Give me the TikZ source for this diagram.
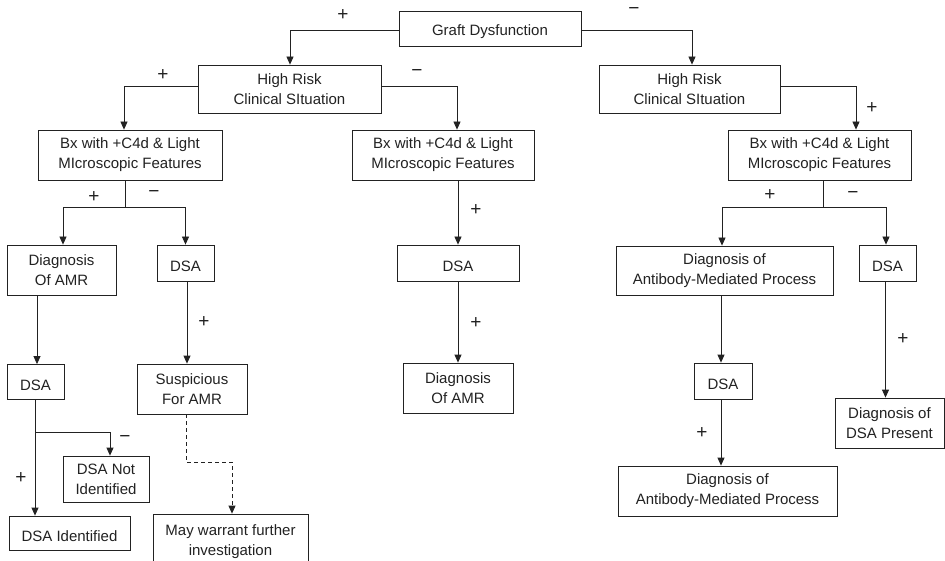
\documentclass[tikz,border=0pt]{standalone}
\usepackage{fontspec}
\setmainfont{Liberation Sans}
\usetikzlibrary{arrows.meta}
\definecolor{ink}{HTML}{222222}
\begin{document}
\begin{tikzpicture}[x=1pt,y=-1pt,
  box/.style={draw=ink,line width=0.8pt,inner sep=0pt,align=center,
    font=\fontsize{15}{20}\selectfont,text=ink,
    execute at begin node={\rule{0pt}{16.5pt}}},
  arr/.style={draw=ink,line width=0.8pt,-{Triangle[length=8pt,width=7pt]}},
  ln/.style={draw=ink,line width=0.8pt},
  sgn/.style={font=\fontsize{19}{19}\selectfont,text=ink,inner sep=0pt}]
\clip (0,0) rectangle (945,561);
\fill[white] (0,0) rectangle (945,561);
% boxes
\node[box,minimum width=182pt,minimum height=35pt] (gd) at (490,28.5) {Graft Dysfunction};
\node[box,minimum width=183pt,minimum height=48pt] (hrL) at (289.5,89) {High Risk\\Clinical SItuation};
\node[box,minimum width=181pt,minimum height=48pt] (hrR) at (689.5,89) {High Risk\\Clinical SItuation};
\node[box,minimum width=184pt,minimum height=50pt] (bxL) at (130,155) {Bx with +C4d \& Light\\MIcroscopic Features};
\node[box,minimum width=182pt,minimum height=50pt] (bxM) at (443,155) {Bx with +C4d \& Light\\MIcroscopic Features};
\node[box,minimum width=183pt,minimum height=50pt] (bxR) at (819.5,155) {Bx with +C4d \& Light\\MIcroscopic Features};
\node[box,minimum width=109pt,minimum height=50pt] (damrL) at (61.5,270) {Diagnosis\\Of AMR};
\node[box,minimum width=57pt,minimum height=36pt] (dsaL1) at (185.5,263) {DSA};
\node[box,minimum width=57pt,minimum height=35pt] (dsaL2) at (35.5,382) {DSA};
\node[box,minimum width=110pt,minimum height=50pt] (susp) at (192,389) {Suspicious\\For AMR};
\node[box,minimum width=86pt,minimum height=46pt] (dni) at (106,479) {DSA Not\\Identified};
\node[box,minimum width=121pt,minimum height=34pt] (di) at (69.5,533) {DSA Identified};
\node[box,minimum width=155pt,minimum height=56pt] (may) at (230.5,542) {May warrant further\\investigation};
\node[box,minimum width=122pt,minimum height=36pt] (dsaM) at (458,263) {DSA};
\node[box,minimum width=110pt,minimum height=50pt] (damrM) at (458,388) {Diagnosis\\Of AMR};
\node[box,minimum width=217pt,minimum height=49pt] (dampR1) at (724.5,270.5) {Diagnosis of\\Antibody-Mediated Process};
\node[box,minimum width=57pt,minimum height=36pt] (dsaR1) at (887.5,263) {DSA};
\node[box,minimum width=58pt,minimum height=36pt] (dsaR2) at (723,381) {DSA};
\node[box,minimum width=219pt,minimum height=50pt] (dampR2) at (727.5,491) {Diagnosis of\\Antibody-Mediated Process};
\node[box,minimum width=109pt,minimum height=50pt] (ddp) at (889.5,423) {Diagnosis of\\DSA Present};
% junction coordinates
\coordinate (jL) at (125,207);
\coordinate (jD) at (35,432);
\coordinate (jS) at (186,462);
\coordinate (jR) at (823,207);
% connectors
\draw[arr] ([yshift=-1.5]gd.west) -| ([xshift=0.5]hrL.north);
\draw[arr] ([yshift=-1.5]gd.east) -| ([xshift=2.5]hrR.north);
\draw[arr] ([yshift=3]hrL.west) -| ([xshift=-6]bxL.north);
\draw[arr] ([yshift=3]hrL.east) -| ([xshift=14]bxM.north);
\draw[arr] ([yshift=3]hrR.east) -| ([xshift=36.5]bxR.north);
\draw[ln] (jL |- bxL.south) -- (jL);
\draw[arr] (jL) -| ([xshift=1.5]damrL.north);
\draw[arr] (jL) -| (dsaL1.north);
\draw[arr] ([xshift=1.5]dsaL2.north |- damrL.south) -- ([xshift=1.5]dsaL2.north);
\draw[arr] (jD |- dsaL2.south) -- (jD |- di.north);
\draw[arr] (jD) -| ([xshift=4]dni.north);
\draw[arr] ([xshift=1.5]dsaL1.south) -- ([xshift=1.5]dsaL1.south |- susp.north);
\draw[arr,dashed,dash pattern=on 4pt off 3pt] (jS |- susp.south) -- (jS) -| ([xshift=1.5]may.north);
\draw[arr] (dsaM.north |- bxM.south) -- (dsaM.north);
\draw[arr] (dsaM.south) -- (damrM.north);
\draw[ln] (jR |- bxR.south) -- (jR);
\draw[arr] (jR) -| ([xshift=-2.5]dampR1.north);
\draw[arr] (jR) -| ([xshift=-1.5]dsaR1.north);
\draw[arr] ([xshift=-2]dsaR2.north |- dampR1.south) -- ([xshift=-2]dsaR2.north);
\draw[arr] ([xshift=-2]dsaR2.south) -- ([xshift=-2]dsaR2.south |- dampR2.north);
\draw[arr] ([xshift=-2]dsaR1.south) -- ([xshift=-2]dsaR1.south |- ddp.north);
% signs
\node[sgn] (s1) at (343,15) {+};
\node[sgn] (s2) at (634,11) {−};
\node[sgn] (s3) at (163,75) {+};
\node[sgn] (s4) at (417,73) {−};
\node[sgn] (s5) at (872,108) {+};
\node[sgn] (s6) at (94,197) {+};
\node[sgn] (s7) at (154,194) {−};
\node[sgn] (s8) at (204,322) {+};
\node[sgn] (s9) at (125,439) {−};
\node[sgn] (s10) at (21,478) {+};
\node[sgn] (s11) at (476,210) {+};
\node[sgn] (s12) at (476,323) {+};
\node[sgn] (s13) at (770,195) {+};
\node[sgn] (s14) at (853,195) {−};
\node[sgn] (s15) at (702,433) {+};
\node[sgn] (s16) at (903,339) {+};
\end{tikzpicture}
\end{document}
